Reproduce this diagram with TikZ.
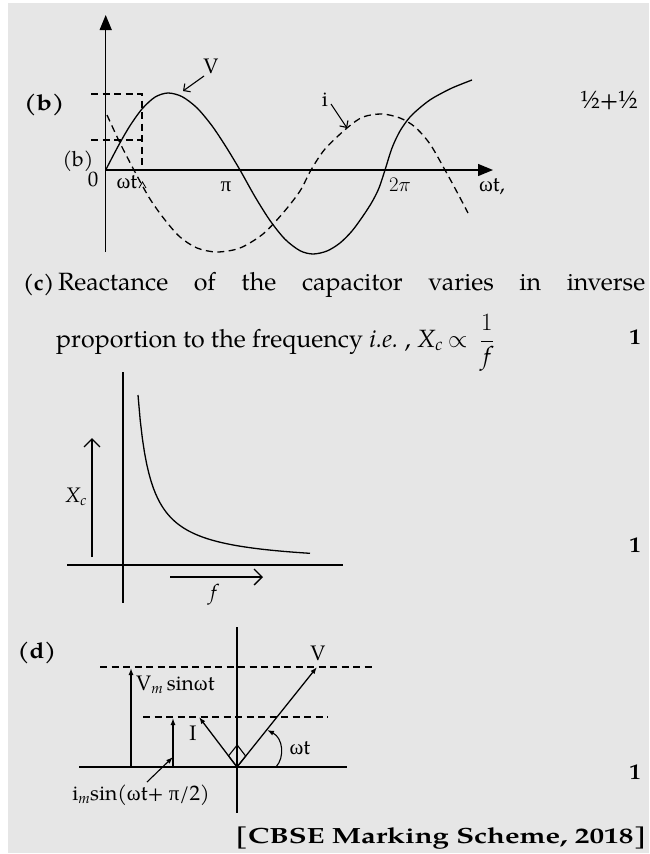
\documentclass[tikz,border=0pt]{standalone}
\usepackage{fontspec}
\setmainfont{TeX Gyre Pagella}
\newfontfamily\grk{Liberation Serif}
\usetikzlibrary{arrows.meta}
\definecolor{bggrey}{RGB}{230,230,230}
\newcommand{\om}{{\grk ω}}
\newcommand{\gpi}{{\grk π}}
\tikzset{
 ax/.style={line width=1.3pt},
 crv/.style={line width=1.3pt, line join=round},
 dsh/.style={line width=1.1pt, dash pattern=on 7pt off 4.5pt},
 lbl/.style={font=\fontsize{21}{24}\selectfont, inner sep=0pt},
 txt/.style={font=\fontsize{25}{29}\selectfont, inner sep=0pt},
 bld/.style={font=\fontsize{22}{26}\selectfont\bfseries, inner sep=0pt},
 bigtip/.style={-{Triangle[length=15pt,width=12pt]}},
 barb/.style={-{Straight Barb[length=5pt,width=10pt]}},
 bigbarb/.style={-{Straight Barb[length=8pt,width=16pt]}},
 smalltip/.style={-{Latex[length=7pt,width=5pt]}},
}
\begin{document}
\begin{tikzpicture}[x=1pt,y=-1pt]
\useasboundingbox (0,0) rectangle (649,854);
\fill[white] (0,0) rectangle (649,854);
\fill[bggrey] (8,3) rectangle (649,853);

% ---------------- (b) ----------------
\node[bld, anchor=west] (lb) at (24,105) {\scalebox{1.15}[1]{(b)}};
\coordinate (O) at (105.7,170);
\draw[ax, bigtip] (105.7,252) -- (105.7,15);
\draw[ax, bigtip] (O) -- (493,170);
\draw[dsh] (91,94) -- (142,94) -- (142,170);
\draw[dsh] (91,140) -- (142,140);
% V curve
\draw[crv] plot[smooth] coordinates {(105.7,170) (112,157.8) (120,142.8) (130,125.7) (142,109) (155,97.1) (168,93) (182,96.6) (197,107.9) (212,125.8) (226,146.8) (240,170) (255,196.7) (270,220.5) (285,239.2) (300,250.7) (313,254) (327,251) (340,243) (352,231) (363,216) (372,202) (379,188) (385,170) (392,148) (400,131) (410,117) (422,106) (433,98) (452,88) (472,80)};
% i curve
\draw[crv, dsh, line width=1.3pt] plot[smooth] coordinates {(107,115) (120,143) (135,172) (150,199) (165,220) (180,237) (197,248) (217,252) (240,248) (263,234) (283,213) (300,191) (311,170) (325,149) (347,128) (363,117) (382,114) (400,118) (415,127) (430,144) (445,170) (457,192) (468,213)};
\node[lbl] (lV) at (211,66) {V};
\coordinate (tV) at (183,91);
\draw[line width=1.1pt, barb] (204,76) -- (tV);
\node[lbl] (li) at (325,100) {i};
\coordinate (ti) at (347,128);
\draw[line width=1.1pt, barb] (331,104) -- (ti);
\node[lbl] (lb2) at (78,161) {(b)};
\node[lbl] (l0) at (93,179) {0};
\node[lbl] (lwt) at (127,182) {\om t};
\draw[line width=0.8pt] (139,188) -- (142.5,182) -- (146,188);
\node[lbl] (lpi) at (226,187) {\gpi};
\node[lbl] (l2pi) at (400,185) {$2\pi$};
\node[lbl] (lwt2) at (492,187) {\om t,};
\node[txt] (mb) at (609,100) {½+½};

% ---------------- (c) ----------------
\node[bld, anchor=base west] (lc) at (23,290) {(c)};
\node[txt, anchor=base west] (c1) at (58,290) {\makebox[587pt][s]{Reactance of the capacitor varies in inverse}};
\node[txt, anchor=base west] (c2) at (56,347) {proportion to the frequency \textit{i.e.}\ , \textit{X}\textsubscript{\textit{c}}\hspace{0.2em}$\propto$\hspace{0.5em}$\displaystyle\frac{1}{\textit{f}}$};
\node[bld] (m1) at (635,337) {1};

\draw[ax] (123,372) -- (123,603);
\draw[ax] (67,565) -- (343,565);
\draw[crv] plot[domain=138:310, samples=80] (\x, {565-2159/(\x-125.3)});
\coordinate (xcb) at (92,557);
\coordinate (xct) at (92,438);
\draw[ax, bigbarb] (xcb) -- (xct);
\node[lbl] (lxc) at (76,497) {\textit{X}\textsubscript{\textit{c}}};
\coordinate (fa) at (170,577);
\coordinate (fb) at (263,577);
\draw[ax, bigbarb] (fa) -- (fb);
\node[lbl] (lf) at (215,595) {\textit{f}};
\node[bld] (m2) at (635,545) {1};

% ---------------- (d) ----------------
\node[bld] (ld) at (37,653) {\scalebox{1.1}[1]{(d)}};
\coordinate (P) at (237,767);
\draw[ax] (237,627) -- (237,813);
\draw[ax] (79,767) -- (347,767);
\draw[dsh] (100,667) -- (373,667);
\draw[dsh] (143,717) -- (328,717);
\draw[ax, smalltip] (131,767) -- (131,668);
\draw[ax, smalltip] (173,767) -- (173,718);
\coordinate (Vt) at (317,667);
\coordinate (It) at (199,717);
\draw[ax, smalltip] (P) -- (Vt);
\draw[ax, smalltip] (P) -- (It);
\draw[line width=1.1pt] (P) -- (245.7,756.1) -- (237.2,745) -- (228.5,755.9) -- cycle;
\draw[line width=1.1pt, smalltip] (276,767) .. controls (285,757) and (283,738) .. (267,730);
\draw[line width=1.1pt, smalltip] (147,782) -- (173,757);
\node[lbl] (ldV) at (318,653) {V};
\node[lbl, anchor=west] (lVm) at (136,685) {V\textsubscript{\textit{m}}\,sin\om t};
\node[lbl] (lI) at (193,733) {I};
\node[lbl] (lwt3) at (300,748) {\om t};
\node[lbl] (lim) at (141,795) {i\textsubscript{\textit{m}}sin(\om t+ \gpi/2)};
\node[bld] (m3) at (635,772) {1};
\node[bld, anchor=east] (src) at (647,838) {\scalebox{1.33}[1]{[CBSE Marking Scheme, 2018]}};
\end{tikzpicture}
\end{document}
